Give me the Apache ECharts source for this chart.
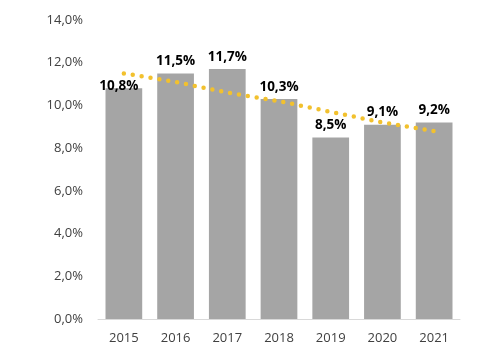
<!DOCTYPE html>
<html><head><meta charset="utf-8">
<script src="https://cdn.jsdelivr.net/npm/echarts@6/dist/echarts.min.js"></script>
<style>html,body{margin:0;padding:0;background:#fff}#c{width:489px;height:362px}</style>
</head><body><div id="c"></div>
<script>
const years = ['2015','2016','2017','2018','2019','2020','2021'];
const values = [10.8, 11.5, 11.7, 10.3, 8.5, 9.1, 9.2];
const trend = [11.5, 11.1, 10.6, 10.2, 9.7, 9.2, 8.8];
const fmt = v => v.toFixed(1).replace('.', ',') + '%';
const chart = echarts.init(document.getElementById('c'));
chart.setOption({
  animation: false,
  grid: {left: 98, right: 29, top: 20, bottom: 43},
  xAxis: {
    type: 'category', data: years,
    axisLine: {lineStyle: {color: '#D9D9D9', width: 1}},
    axisTick: {show: false},
    axisLabel: {color: '#404040', fontSize: 13, fontFamily: 'Open Sans', margin: 13}
  },
  yAxis: {
    type: 'value', min: 0, max: 14, interval: 2,
    splitLine: {show: false},
    axisLine: {show: false}, axisTick: {show: false},
    axisLabel: {color: '#404040', fontSize: 13, fontFamily: 'Open Sans', margin: 15,
      formatter: v => fmt(v)}
  },
  series: [
    {
      type: 'bar', data: values.map((v, i) => i === 0 ? {value: v, label: {offset: [-5, 10]}} : v),
      barWidth: '71%', barGap: '-100%',
      itemStyle: {color: '#A5A5A5'},
      label: {show: true, position: 'top', distance: 5, color: '#000', fontWeight: 'bold',
        fontSize: 13.5, fontFamily: 'Open Sans', formatter: p => fmt(p.value)},
      z: 1
    },
    {
      type: 'line', data: trend, symbol: 'none', z: 2,
      lineStyle: {color: '#F2C12E', width: 4.5, type: [0, 9], cap: 'round'}
    }
  ]
});
</script></body></html>
